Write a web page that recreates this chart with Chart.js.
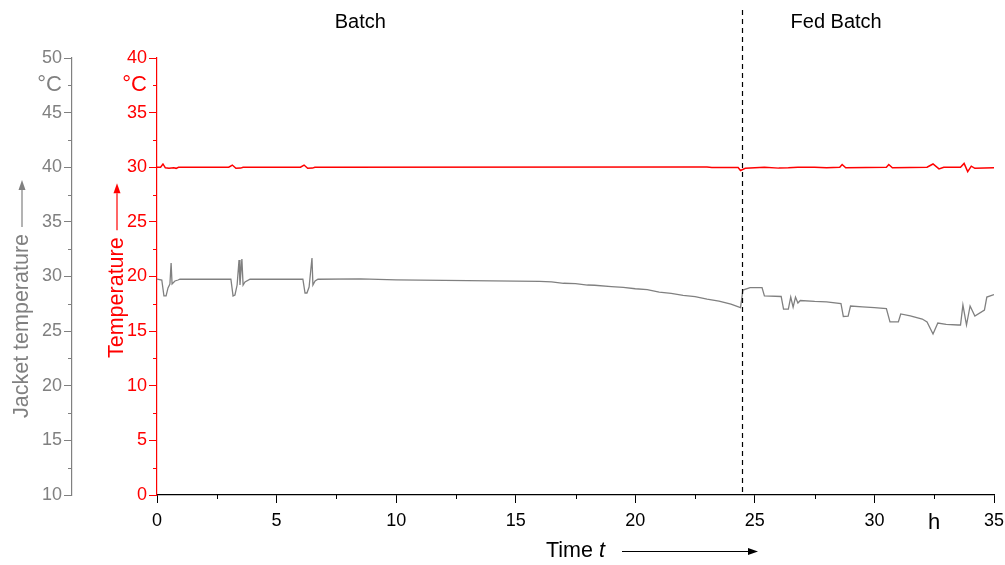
<!DOCTYPE html>
<html>
<head>
<meta charset="utf-8">
<script src="https://cdn.jsdelivr.net/npm/chart.js@4/dist/chart.umd.min.js"></script>
<style>
    html, body { margin: 0; padding: 0; background: #fff; }
    #wrap { width: 1005px; height: 565px; }
</style>
</head>
<body>
<div id="wrap"><canvas id="tempChart"></canvas></div>
<script>
/* DATA */

const jacketHours = [0, 0.2, 0.29, 0.38, 0.46, 0.54, 0.59, 0.63, 0.75, 0.88, 0.96,
    3.09, 3.18, 3.26, 3.35, 3.43, 3.47, 3.55, 3.6, 3.68, 3.89,
    6.1, 6.19, 6.27, 6.36, 6.48, 6.52, 6.61, 6.73,
    8.5, 10, 12, 14, 16, 16.5, 17, 17.5, 18, 18.3, 19, 19.5, 20, 20.5, 21, 21.5, 22, 22.5, 23, 23.5, 24, 24.4,
    24.5, 24.8, 25.3, 25.4, 26.1, 26.2, 26.4, 26.5, 26.6, 26.7, 26.8, 26.9, 27.5, 28.0, 28.6, 28.7, 28.9, 29.0,
    29.5, 30.0, 30.5, 30.65, 31.0, 31.1, 31.5, 32.0, 32.2, 32.45, 32.65, 33.0, 33.5, 33.6, 33.7, 33.85, 34.0,
    34.2, 34.6, 34.7, 35]
const jacketTemp = [29.77, 29.68, 28.22, 28.22, 28.95, 29.31, 31.24, 29.31, 29.59, 29.68, 29.75,
    29.75, 28.22, 28.31, 29.22, 31.51, 29.22, 31.6, 29.22, 29.5, 29.75,
    29.75, 28.49, 28.49, 29.04, 31.69, 29.22, 29.59, 29.75,
    29.78, 29.7, 29.65, 29.6, 29.55, 29.5, 29.38, 29.35, 29.22, 29.2, 29.08, 29.0, 28.88, 28.8, 28.56, 28.45,
    28.28, 28.15, 27.92, 27.75, 27.48, 27.16,
    28.76, 28.99, 28.99, 28.22, 28.17, 27.02, 27.02, 28.12, 27.2, 28.12, 27.57, 27.8, 27.72, 27.68, 27.53,
    26.34, 26.38, 27.3, 27.22, 27.15, 27.07, 25.84, 25.84, 26.57, 26.4, 26.11, 25.84, 24.74, 25.74, 25.61,
    25.56, 25.56, 27.39, 25.56, 27.3, 26.38, 26.93, 28.12, 28.35]

const reactorHours = [0, 0.15, 0.25, 0.35, 0.5, 0.7, 0.8, 0.9,
    3.0, 3.15, 3.3, 3.5, 3.6, 6.0, 6.15, 6.3, 6.5, 6.6,
    22.5, 23, 23.2, 24.3, 24.4, 24.6, 25, 25.4, 26, 26.4, 26.8, 27.5, 28.0, 28.55, 28.65, 28.8,
    30.5, 30.6, 30.75, 32.2, 32.45, 32.7, 32.9, 33.6, 33.75, 33.9, 34.05, 34.2, 35]
const reactorTemp = [30, 30, 30.3, 29.95, 29.9, 29.95, 29.9, 30,
    30, 30.2, 29.9, 29.92, 30, 30, 30.2, 29.9, 29.92, 30,
    30.03, 30.03, 29.97, 29.97, 29.7, 29.9, 29.95, 30, 29.92, 29.95, 30, 30, 29.95, 30, 30.25, 29.95,
    30, 30.25, 29.95, 30, 30.3, 29.85, 30, 30, 30.35, 29.6, 30.1, 29.9, 29.95]

const phaseSplit = 24.46
const phaseLabels = [{ text: 'Batch', at: 8.5 }, { text: 'Fed Batch', at: 28.4 }]

/* STYLE */

const FONT = '"Liberation Sans", Arial, sans-serif'
const GRAY = '#808080'
const RED = '#ff0000'

const toPoints = (xs, ys) => xs.map((x, i) => ({ x, y: ys[i] }))
const isMajor = (v) => Math.abs(v % 5) < 1e-6

function drawArrow(ctx, x1, y1, x2, y2, color) {
    const ang = Math.atan2(y2 - y1, x2 - x1)
    const head = 10
    ctx.save()
    ctx.strokeStyle = color
    ctx.fillStyle = color
    ctx.lineWidth = 1.2
    ctx.beginPath()
    ctx.moveTo(x1, y1)
    ctx.lineTo(x2 - head * Math.cos(ang), y2 - head * Math.sin(ang))
    ctx.stroke()
    ctx.translate(x2, y2)
    ctx.rotate(ang)
    ctx.beginPath()
    ctx.moveTo(0, 0)
    ctx.lineTo(-head, -3.5)
    ctx.lineTo(-head, 3.5)
    ctx.closePath()
    ctx.fill()
    ctx.restore()
}

// short ticks between the labelled ones
const minorTicks = {
    id: 'minorTicks',
    afterDraw(chart) {
        const ctx = chart.ctx
        ;['x', 'yJ', 'yT'].forEach((id) => {
            const s = chart.scales[id]
            ctx.save()
            ctx.strokeStyle = s.options.border.color
            ctx.lineWidth = 1
            s.ticks.forEach((t) => {
                if (isMajor(t.value)) return
                const p = Math.round(s.getPixelForValue(t.value)) + 0.5
                ctx.beginPath()
                if (s.isHorizontal()) {
                    ctx.moveTo(p, s.top)
                    ctx.lineTo(p, s.top + 4)
                } else {
                    ctx.moveTo(s.right, p)
                    ctx.lineTo(s.right - 4, p)
                }
                ctx.stroke()
            })
            ctx.restore()
        })
    }
}

// phase marker, phase names and axis titles with arrows
const decorations = {
    id: 'decorations',
    afterDraw(chart) {
        const ctx = chart.ctx
        const area = chart.chartArea
        const x = chart.scales.x
        const yJ = chart.scales.yJ
        const yT = chart.scales.yT

        const px = Math.round(x.getPixelForValue(phaseSplit)) + 0.5
        ctx.save()
        ctx.strokeStyle = '#000'
        ctx.lineWidth = 1.2
        ctx.setLineDash([5, 4])
        ctx.beginPath()
        ctx.moveTo(px, 10)
        ctx.lineTo(px, area.bottom)
        ctx.stroke()
        ctx.restore()

        ctx.save()
        ctx.fillStyle = '#000'
        ctx.font = '20px ' + FONT
        ctx.textAlign = 'center'
        ctx.textBaseline = 'middle'
        phaseLabels.forEach((p) => ctx.fillText(p.text, x.getPixelForValue(p.at), 22))
        ctx.restore()

        const vTitle = (text, cx, yStart, color) => {
            ctx.save()
            ctx.translate(cx, yStart)
            ctx.rotate(-Math.PI / 2)
            ctx.font = '21.5px ' + FONT
            ctx.fillStyle = color
            ctx.textAlign = 'left'
            ctx.textBaseline = 'middle'
            ctx.fillText(text, 0, 0)
            const w = ctx.measureText(text).width
            drawArrow(ctx, w + 7, 0, w + 54, 0, color)
            ctx.restore()
        }
        vTitle('Jacket temperature', yJ.left + 22, area.bottom - 77, GRAY)
        vTitle('Temperature', yT.left + 45, area.bottom - 137, RED)

        ctx.save()
        ctx.fillStyle = '#000'
        ctx.textBaseline = 'middle'
        ctx.textAlign = 'left'
        const ty = area.bottom + 56
        ctx.font = '21.5px ' + FONT
        ctx.fillText('Time ', 546, ty)
        const w = ctx.measureText('Time ').width
        ctx.font = 'italic 21.5px ' + FONT
        ctx.fillText('t', 546 + w, ty)
        ctx.restore()
        drawArrow(ctx, 622, area.bottom + 56.5, 758, area.bottom + 56.5, '#000')
    }
}

function yAxis(min, max, color, unitAt, weight, width) {
    return {
        type: 'linear',
        position: 'left',
        weight,
        min,
        max,
        border: { display: true, color, width: 1.2 },
        grid: {
            drawOnChartArea: false,
            drawTicks: true,
            tickLength: 8,
            tickColor: (c) => (c.tick && isMajor(c.tick.value) ? color : 'rgba(0,0,0,0)')
        },
        ticks: {
            stepSize: 2.5,
            autoSkip: false,
            color,
            padding: 2,
            font: (c) => ({ family: FONT, size: c.tick && c.tick.value === unitAt ? 22 : 18 }),
            callback: (v) => (v === unitAt ? '°C' : isMajor(v) ? String(v) : '')
        },
        afterFit: (s) => {
            s.width = width
            s.paddingTop = 0
            s.paddingBottom = 0
        }
    }
}

new Chart(document.getElementById('tempChart'), {
    type: 'line',
    data: {
        datasets: [
            {
                label: 'Temperature',
                data: toPoints(reactorHours, reactorTemp),
                yAxisID: 'yT',
                borderColor: RED,
                borderWidth: 1.5,
                pointRadius: 0,
                tension: 0
            },
            {
                label: 'Jacket temperature',
                data: toPoints(jacketHours, jacketTemp),
                yAxisID: 'yJ',
                borderColor: GRAY,
                borderWidth: 1.3,
                pointRadius: 0,
                tension: 0
            }
        ]
    },
    options: {
        responsive: true,
        maintainAspectRatio: false,
        animation: false,
        layout: { padding: { top: 58, right: 11, left: 0, bottom: 0 } },
        plugins: { legend: { display: false }, tooltip: { enabled: false } },
        scales: {
            x: {
                type: 'linear',
                min: 0,
                max: 35,
                border: { display: true, color: '#000', width: 1.2 },
                grid: {
                    drawOnChartArea: false,
                    tickLength: 8,
                    tickColor: (c) => (c.tick && isMajor(c.tick.value) ? '#000' : 'rgba(0,0,0,0)')
                },
                ticks: {
                    stepSize: 2.5,
                    autoSkip: false,
                    maxRotation: 0,
                    color: '#000',
                    padding: 7,
                    font: (c) => ({ family: FONT, size: c.tick && c.tick.value === 32.5 ? 22 : 18 }),
                    callback: (v) => (v === 32.5 ? 'h' : isMajor(v) ? String(v) : '')
                },
                afterFit: (s) => {
                    s.height = 70
                    s.paddingLeft = 0
                    s.paddingRight = 0
                }
            },
            yJ: yAxis(10, 50, GRAY, 47.5, 2, 72),
            yT: yAxis(0, 40, RED, 37.5, 1, 85)
        }
    },
    plugins: [minorTicks, decorations]
})
</script>
</body>
</html>
